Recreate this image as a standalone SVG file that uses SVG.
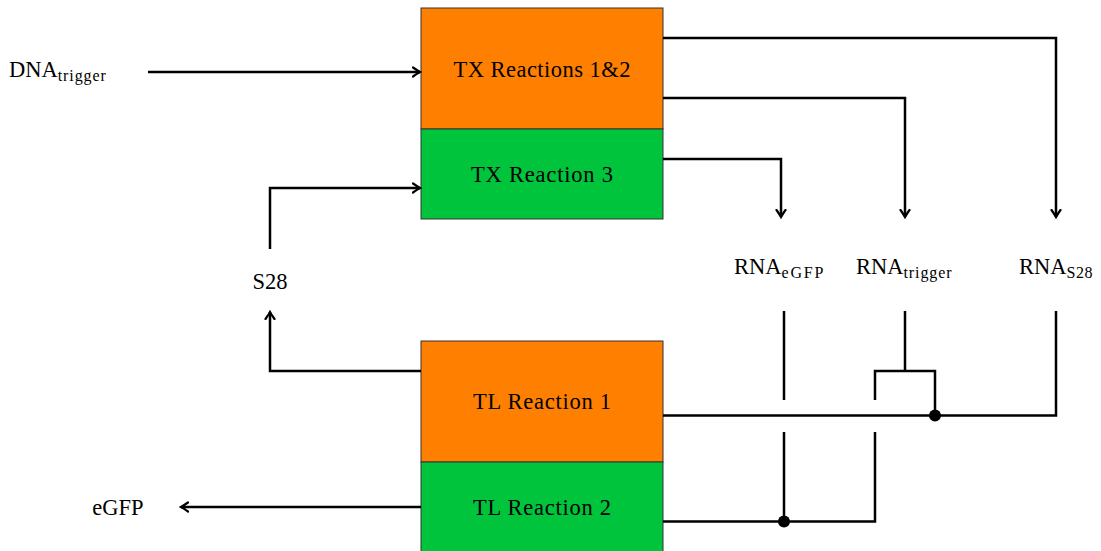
<svg xmlns="http://www.w3.org/2000/svg" width="1101" height="551" viewBox="0 0 1101 551">
<defs>
<style>
.box{stroke:#333;stroke-width:1}
.or{fill:#FF8000}
.gr{fill:#00C43C}
.t{font-family:"Liberation Serif","DejaVu Serif",serif;font-size:22.5px;fill:#000}
.sub{font-size:16px}
.c{fill:none;stroke:#000;stroke-width:2.5;stroke-linejoin:miter}
.a{marker-end:url(#ar)}
</style>
<marker id="ar" viewBox="-8 -6 10 12" markerWidth="10" markerHeight="12" refX="0" refY="0" orient="auto" markerUnits="userSpaceOnUse">
<path d="M-7,-4.5 Q-2,-1 0,0 Q-2,1 -7,4.5" fill="none" stroke="#000" stroke-width="2.2" stroke-linecap="round"/>
</marker>
</defs>
<rect width="1101" height="551" fill="#fff"/>
<g id="tx12"><rect class="box or" x="421" y="8" width="242" height="121"/><text class="t" x="542" y="77" text-anchor="middle" textLength="177">TX Reactions 1&amp;2</text></g>
<g id="tx3"><rect class="box gr" x="421" y="129" width="242" height="90"/><text class="t" x="542" y="182" text-anchor="middle" textLength="142">TX Reaction 3</text></g>
<g id="tl1"><rect class="box or" x="421" y="341" width="242" height="121"/><text class="t" x="542" y="409" text-anchor="middle" textLength="138">TL Reaction 1</text></g>
<g id="tl2"><rect class="box gr" x="421" y="462" width="242" height="92"/><text class="t" x="542" y="515" text-anchor="middle" textLength="138">TL Reaction 2</text></g>
<g id="dna"><text class="t" x="9" y="77">DNA<tspan class="sub" dy="4" textLength="48">trigger</tspan></text></g>
<g id="s28"><text class="t" x="270" y="289" text-anchor="middle">S28</text></g>
<g id="egfp"><text class="t" x="118" y="515" text-anchor="middle">eGFP</text></g>
<g id="rnaegfp"><text class="t" x="734" y="274">RNA<tspan class="sub" dy="4" textLength="42">eGFP</tspan></text></g>
<g id="rnatrigger"><text class="t" x="856" y="274">RNA<tspan class="sub" dy="4" textLength="48">trigger</tspan></text></g>
<g id="rnas28"><text class="t" x="1019" y="274">RNA<tspan class="sub" dy="4" textLength="26">S28</tspan></text></g>
<g id="connectors">
<path class="c a" d="M148,72 H420"/>
<path class="c a" d="M663,38 H1056 V217"/>
<path class="c a" d="M663,98 H905 V217"/>
<path class="c a" d="M663,159 H781 V217"/>
<path class="c a" d="M270,249 V188 H420"/>
<path class="c a" d="M421,371 H270 V312"/>
<path class="c a" d="M421,507 H181"/>
<path class="c" d="M663,415.5 H1056 V311"/>
<path class="c" d="M905,311 V371 M875,400 V371 H935 V415.5"/>
<path class="c" d="M784,311 V400 M784,432 V521.5"/>
<path class="c" d="M663,521.5 H875 V432"/>
<circle cx="935" cy="415.5" r="6" fill="#000"/>
<circle cx="784" cy="521.5" r="6" fill="#000"/>
</g>
</svg>
